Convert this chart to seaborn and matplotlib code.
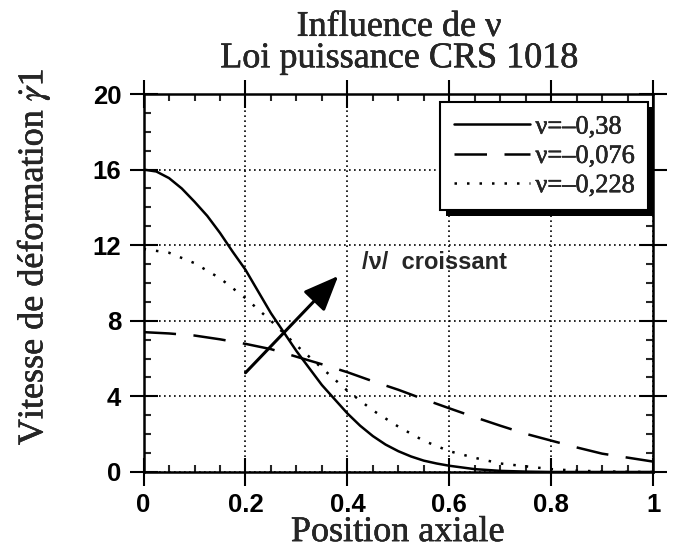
import numpy as np
import pandas as pd
import matplotlib
matplotlib.use("Agg")
import matplotlib.pyplot as plt
import matplotlib.patheffects as pe
from matplotlib.ticker import MultipleLocator, FixedLocator, FixedFormatter
import seaborn as sns

# Axial position (normalised) and strain-rate profiles for three values of nu
pos_nu_038 = [0.0, 0.025, 0.05, 0.075, 0.1, 0.125, 0.15, 0.175, 0.2, 0.25, 0.3,
              0.35, 0.4, 0.425, 0.45, 0.475, 0.5, 0.525, 0.55, 0.575, 0.6,
              0.65, 0.7, 0.75, 0.8, 0.9, 1.0]
rate_nu_038 = [16.0, 15.9, 15.55, 15.0, 14.3, 13.55, 12.65, 11.65, 10.7, 8.4, 6.4,
               4.6, 3.1, 2.45, 1.9, 1.45, 1.1, 0.82, 0.6, 0.45, 0.33,
               0.15, 0.06, 0.02, 0.0, 0.0, 0.0]
pos_nu_0076 = [0.0, 0.05, 0.1, 0.15, 0.2, 0.25, 0.3, 0.35, 0.4, 0.45, 0.5,
               0.55, 0.6, 0.65, 0.7, 0.75, 0.8, 0.85, 0.9, 0.95, 1.0]
rate_nu_0076 = [7.4, 7.33, 7.22, 7.02, 6.78, 6.5, 6.1, 5.7, 5.28, 4.8, 4.35,
                3.85, 3.37, 2.9, 2.45, 2.02, 1.66, 1.3, 0.97, 0.76, 0.55]
pos_nu_0228 = [0.0, 0.05, 0.1, 0.15, 0.2, 0.25, 0.3, 0.35, 0.4, 0.45, 0.5,
               0.55, 0.6, 0.65, 0.7, 0.75, 0.8, 0.85, 0.9, 0.95, 1.0]
rate_nu_0228 = [11.8, 11.6, 11.05, 10.25, 9.2, 8.0, 6.7, 5.5, 4.3, 3.26, 2.4,
                1.65, 1.1, 0.75, 0.45, 0.3, 0.15, 0.07, 0.03, 0.01, 0.0]
series_labels = ["ν=–0,38", "ν=–0,076", "ν=–0,228"]
x_tick_labels = ["0", "0.2", "0.4", "0.6", "0.8", "1"]
y_tick_labels = ["0", "4", "8", "12", "16", "20"]

sns.set_style("ticks")
plt.rcParams["font.family"] = ["Liberation Serif", "DejaVu Serif"]
plt.rcParams["mathtext.fontset"] = "stix"

# Slightly heavier strokes for the serif captions
heavy = [pe.withStroke(linewidth=0.35, foreground="black")]

frames = []
for label, xs, ys in zip(series_labels,
                         [pos_nu_038, pos_nu_0076, pos_nu_0228],
                         [rate_nu_038, rate_nu_0076, rate_nu_0228]):
    frames.append(pd.DataFrame({"x": xs, "y": ys, "nu": label}))
df = pd.concat(frames, ignore_index=True)

fig = plt.figure(figsize=(6.74, 5.51), dpi=100)
ax = fig.add_axes([0.213, 0.1434, 0.756, 0.686])

styles = {
    series_labels[0]: "",
    series_labels[1]: (13, 7),
    series_labels[2]: (1, 4),
}
sns.lineplot(data=df, x="x", y="y", hue="nu", style="nu", dashes=styles,
             palette=["black"] * 3, linewidth=1.8, ax=ax, sort=False,
             legend=True)

ax.set_xlim(0, 1)
ax.set_ylim(0, 20)
ax.set_xlabel("")
ax.set_ylabel("")

# Ticks on all four sides; major ticks straddle the frame
ax.xaxis.set_major_locator(FixedLocator([0, 0.2, 0.4, 0.6, 0.8, 1.0]))
ax.xaxis.set_major_formatter(FixedFormatter(x_tick_labels))
ax.yaxis.set_major_locator(FixedLocator([0, 4, 8, 12, 16, 20]))
ax.yaxis.set_major_formatter(FixedFormatter(y_tick_labels))
ax.xaxis.set_minor_locator(MultipleLocator(0.05))
ax.yaxis.set_minor_locator(MultipleLocator(1))
ax.tick_params(which="major", direction="inout", length=20, width=1.5,
               top=True, right=True, colors="black")
ax.tick_params(which="minor", direction="in", length=5, width=1.5,
               top=True, right=True)
ax.tick_params(axis="x", which="major", pad=5)
ax.tick_params(axis="y", which="major", pad=6)
for lab in ax.get_xticklabels() + ax.get_yticklabels():
    lab.set_family(["Liberation Sans", "DejaVu Sans"])
    lab.set_fontweight("bold")
    lab.set_fontsize(18.5)

for sp in ax.spines.values():
    sp.set_linewidth(1.8)
    sp.set_color("black")

ax.grid(True, which="major", color="black", linestyle=(0, (1, 2)), linewidth=1.2)
ax.set_axisbelow(True)

# Arrow showing the trend with increasing |nu|
ax.annotate("", xy=(0.382, 10.37), xytext=(0.2, 5.25),
            arrowprops=dict(arrowstyle="-|>,head_length=1.2,head_width=0.5",
                            color="black", lw=2.2, mutation_scale=18,
                            shrinkA=0, shrinkB=0))
ax.text(0.429, 11.1, "/ν/  croissant", fontsize=17, fontweight="bold",
        family=["Liberation Sans", "DejaVu Sans"], ha="left", va="center")

leg = ax.legend(loc="upper right", bbox_to_anchor=(0.99, 0.979), frameon=True,
                fancybox=False, fontsize=19, handlelength=2.9, handletextpad=0.2,
                labelspacing=0.22, borderpad=0.5, borderaxespad=0.0, title=None)
frame = leg.get_frame()
frame.set_edgecolor("black")
frame.set_linewidth(1.5)
frame.set_facecolor("white")
frame.set_alpha(1)
frame.set_path_effects([pe.SimplePatchShadow(offset=(4, -4), shadow_rgbFace="black",
                                             alpha=1.0), pe.Normal()])
for line in leg.get_lines():
    line.set_linewidth(1.8)
for t in leg.get_texts():
    t.set_path_effects(heavy)

for txt in [
    fig.text(0.592, 0.935, "Influence de ν", fontsize=26, ha="center", va="baseline"),
    fig.text(0.592, 0.878, "Loi puissance CRS 1018", fontsize=26, ha="center",
             va="baseline"),
    fig.text(0.59, 0.018, "Position axiale", fontsize=26, ha="center", va="baseline"),
    fig.text(0.049, 0.534, "Vitesse de déformation $\\dot{\\gamma}$1", fontsize=26,
             rotation=90, ha="center", va="center"),
]:
    txt.set_path_effects(heavy)

fig.savefig("out.png", dpi=100)
